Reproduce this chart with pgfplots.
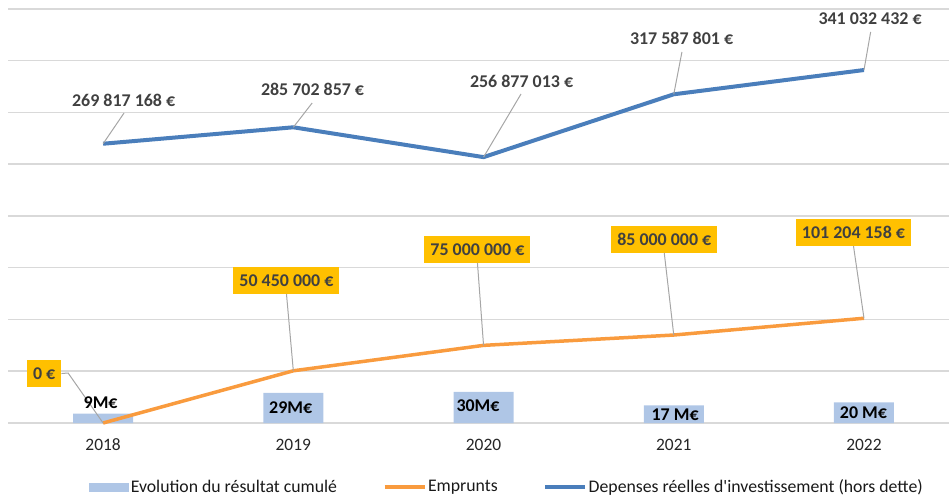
\documentclass[border=0pt]{standalone}
\usepackage{fontspec}
\setmainfont{Carlito}[Ligatures=TeXOff]
\usepackage{pgfplots}
\pgfplotsset{compat=1.18}
\definecolor{barblue}{HTML}{AFC6E6}
\definecolor{lineblue}{HTML}{4A7EBB}
\definecolor{lineorange}{HTML}{F99B3E}
\definecolor{gold}{HTML}{FFC000}
\definecolor{labeltxt}{HTML}{404040}
\definecolor{gridgray}{HTML}{D9D9D9}
\definecolor{leader}{HTML}{A6A6A6}

\begin{document}
\begin{tikzpicture}[
    labl/.style={font=\bfseries\fontsize{18}{20}\selectfont, text=labeltxt, inner sep=0pt},
    olabl/.style={font=\bfseries\fontsize{18}{20}\selectfont, text=labeltxt, fill=gold,
                  inner xsep=6bp, inner ysep=0pt, minimum height=27bp},
    blabl/.style={font=\bfseries\fontsize{18}{20}\selectfont, text=black, inner sep=0pt},
    lead/.style={leader, line width=1bp},
]
\useasboundingbox (0,0) rectangle (949bp,502bp);
\begin{axis}[
    at={(8bp,79bp)}, anchor=south west,
    scale only axis,
    width=941bp, height=414bp,
    xmin=-0.5, xmax=4.447,
    ymin=0, ymax=400,
    xtick={0,1,2,3,4},
    xticklabels={2018,2019,2020,2021,2022},
    ytick={0,50,...,400},
    yticklabels={},
    ymajorgrids,
    grid style={gridgray, line width=1.5bp},
    axis line style={draw=none},
    major tick length=0pt,
    xticklabel style={font=\fontsize{17.5}{20}\selectfont, text=black!85, anchor=base, yshift=-27bp},
    clip=false,
    legend style={
        at={(rel axis cs:0.530,-0.1546)}, anchor=center,
        legend columns=3, draw=none, fill=none,
        font=\fontsize{17.8}{20}\selectfont, text=black!90,
        nodes={inner sep=1.5bp},
        /tikz/every even column/.append style={column sep=44bp},
    },
    legend cell align=left,
]
% Evolution du resultat cumule (M EUR)
\addplot[ybar, bar width=60bp, fill=barblue, draw=none,
    legend image code/.code={\fill[barblue] (0bp,-4.5bp) rectangle (40bp,4.5bp);}]
    coordinates {(0,9) (1,29) (2,30) (3,17) (4,20)};
\addlegendentry{Evolution du résultat cumulé}
% Emprunts (M EUR)
\addplot[lineorange, line width=3.5bp, line join=round, mark=none,
    legend image code/.code={\draw[lineorange, line width=4bp] (0bp,0bp) -- (40bp,0bp);}]
    coordinates {(0,0) (1,50.45) (2,75) (3,85) (4,101.204158)};
\addlegendentry{Emprunts}
% Depenses reelles d'investissement (M EUR)
\addplot[lineblue, line width=4bp, line join=round, mark=none,
    legend image code/.code={\draw[lineblue, line width=4bp] (0bp,0bp) -- (40bp,0bp);}]
    coordinates {(0,269.817168) (1,285.702857) (2,256.877013) (3,317.587801) (4,341.032432)};
\addlegendentry{Depenses réelles d'investissement (hors dette)}

% blue labels
\draw[lead] (axis cs:0,269.817) -- (axis cs:0.110,299.5);
\node[labl] at (axis cs:0.108,312.1) {269 817 168 €};
\draw[lead] (axis cs:1,285.703) -- (axis cs:1.099,309.2);
\node[labl] at (axis cs:1.101,322.7) {285 702 857 €};
\draw[lead] (axis cs:2,256.877) -- (axis cs:2.197,317.9);
\node[labl] at (axis cs:2.200,330.4) {256 877 013 €};
\draw[lead] (axis cs:3,317.588) -- (axis cs:3.043,358.5);
\node[labl] at (axis cs:3.041,372.0) {317 587 801 €};
\draw[lead] (axis cs:4,341.032) -- (axis cs:4.035,377.8);
\node[labl] at (axis cs:4.032,390.3) {341 032 432 €};

% orange labels
\node[olabl] (o0) at (axis cs:-0.310,47.8) {0 €};
\draw[lead] (o0.east) -- (axis cs:-0.184,48.3) -- (axis cs:0,0);
\node[olabl] (o1) at (axis cs:0.964,137.9) {50 450 000 €};
\draw[lead] (o1.south) -- (axis cs:1,50.45);
\node[olabl] (o2) at (axis cs:1.968,167.9) {75 000 000 €};
\draw[lead] (o2.south) -- (axis cs:2,75);
\node[olabl] (o3) at (axis cs:2.950,177.6) {85 000 000 €};
\draw[lead] (o3.south) -- (axis cs:3,85);
\node[olabl] (o4) at (axis cs:3.945,184.1) {101 204 158 €};
\draw[lead] (o4.south) -- (axis cs:4,101.204);

% bar labels
\node[blabl] at (axis cs:-0.013,19.6) {9M€};
\node[blabl] at (axis cs:0.986,14.8) {29M€};
\node[blabl] at (axis cs:1.971,16.9) {30M€};
\node[blabl] at (axis cs:3.007,7.8) {17 M€};
\node[blabl] at (axis cs:3.997,9.5) {20 M€};
\end{axis}
\end{tikzpicture}
\end{document}
